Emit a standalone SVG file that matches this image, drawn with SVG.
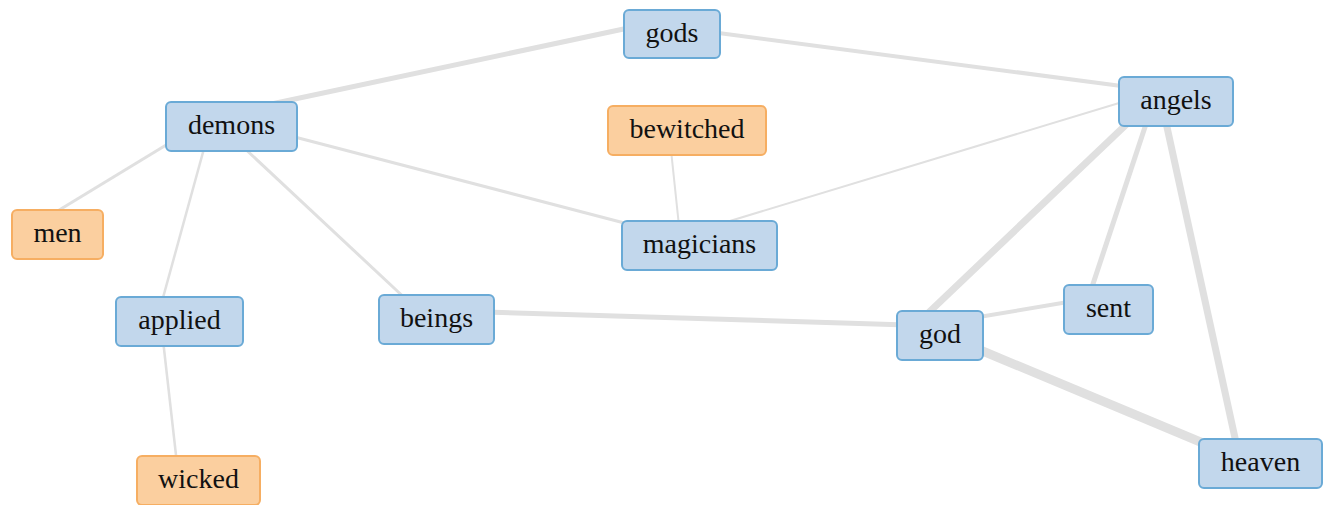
<svg xmlns="http://www.w3.org/2000/svg" width="1328" height="505" viewBox="0 0 1328 505">
  <style>
    .edge { stroke: #e0e0e0; stroke-linecap: butt; fill: none; }
    .node rect { stroke-width: 2; }
    .blue rect { fill: #c2d7ec; stroke: #6aaad6; }
    .orange rect { fill: #fbcf9f; stroke: #f6ae62; }
    .node text { font-size: 28px; fill: #111; text-anchor: middle; }
  </style>
  <rect width="1328" height="505" fill="#ffffff"/>

  <!-- connectors -->
  <g id="edges">
    <line class="edge" x1="262" y1="106" x2="633" y2="27" stroke-width="5"/>
    <line class="edge" x1="711" y1="32" x2="1129" y2="87" stroke-width="4"/>
    <line class="edge" x1="287" y1="135" x2="632" y2="225" stroke-width="3"/>
    <line class="edge" x1="671" y1="150" x2="679" y2="226" stroke-width="2"/>
    <line class="edge" x1="720" y1="224" x2="1129" y2="100" stroke-width="2"/>
    <line class="edge" x1="176" y1="139" x2="51" y2="215" stroke-width="3"/>
    <line class="edge" x1="205" y1="145" x2="161" y2="305" stroke-width="2.5"/>
    <line class="edge" x1="241" y1="145" x2="409" y2="302" stroke-width="3"/>
    <line class="edge" x1="163" y1="340" x2="177" y2="464" stroke-width="2.5"/>
    <line class="edge" x1="485" y1="312" x2="907" y2="325" stroke-width="5"/>
    <line class="edge" x1="1132" y1="119" x2="923" y2="318" stroke-width="7"/>
    <line class="edge" x1="1148" y1="118" x2="1090" y2="293" stroke-width="5"/>
    <line class="edge" x1="1165" y1="118" x2="1237" y2="447" stroke-width="7"/>
    <line class="edge" x1="973" y1="318" x2="1074" y2="301" stroke-width="4"/>
    <line class="edge" x1="973" y1="347" x2="1210" y2="446" stroke-width="9"/>
  </g>

  <!-- nodes -->
  <g font-family="'Liberation Serif', 'Times New Roman', serif">
    <g id="gods" class="node blue"><rect x="624" y="10" width="96" height="48" rx="5"/><text x="672" y="42">gods</text></g>
    <g id="bewitched" class="node orange"><rect x="608" y="106" width="158" height="49" rx="5"/><text x="687" y="138">bewitched</text></g>
    <g id="magicians" class="node blue"><rect x="622" y="221" width="155" height="49" rx="5"/><text x="699.5" y="253">magicians</text></g>
    <g id="angels" class="node blue"><rect x="1119" y="77" width="114" height="49" rx="5"/><text x="1176" y="109">angels</text></g>
    <g id="demons" class="node blue"><rect x="166" y="102" width="131" height="49" rx="5"/><text x="231.5" y="134">demons</text></g>
    <g id="men" class="node orange"><rect x="12" y="210" width="91" height="49" rx="5"/><text x="57.5" y="242">men</text></g>
    <g id="applied" class="node blue"><rect x="116" y="297" width="127" height="49" rx="5"/><text x="179.5" y="329">applied</text></g>
    <g id="beings" class="node blue"><rect x="379" y="295" width="115" height="49" rx="5"/><text x="436.5" y="327">beings</text></g>
    <g id="wicked" class="node orange"><rect x="137" y="456" width="123" height="49" rx="5"/><text x="198.5" y="488">wicked</text></g>
    <g id="god" class="node blue"><rect x="897" y="311" width="86" height="49" rx="5"/><text x="940" y="343">god</text></g>
    <g id="sent" class="node blue"><rect x="1064" y="285" width="89" height="49" rx="5"/><text x="1108.5" y="317">sent</text></g>
    <g id="heaven" class="node blue"><rect x="1199" y="439" width="123" height="49" rx="5"/><text x="1260.5" y="471">heaven</text></g>
  </g>
</svg>
